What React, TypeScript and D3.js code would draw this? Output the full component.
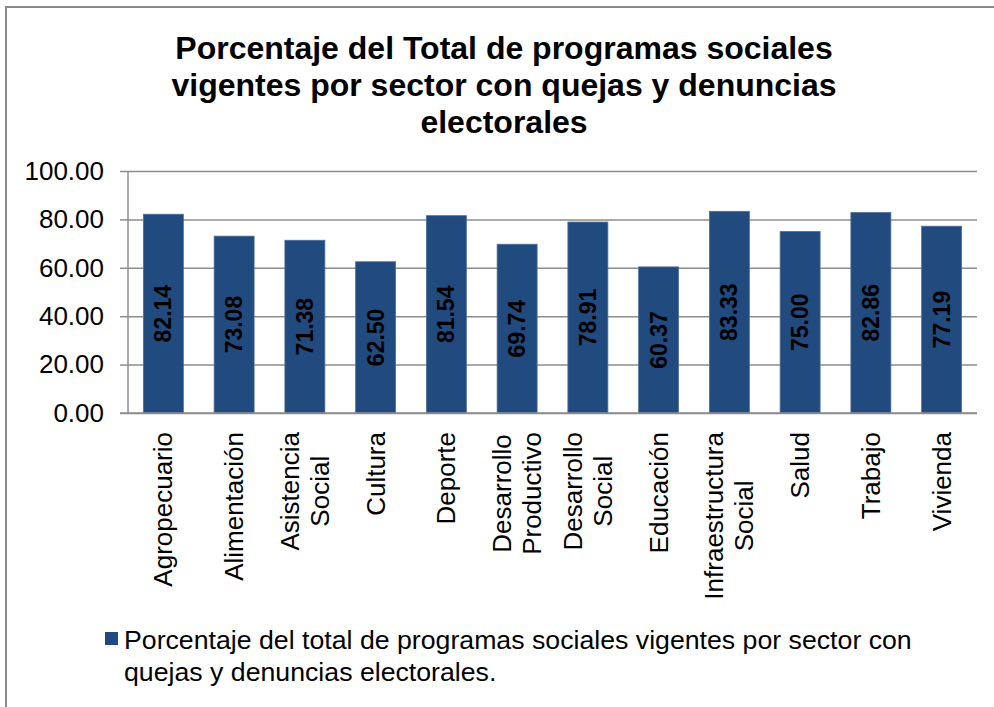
import { useEffect, useRef } from 'react'
import * as d3 from 'd3'

// sectors (line breaks as in the original category labels)
const categories: string[][] = [
  ['Agropecuario'],
  ['Alimentación'],
  ['Asistencia', 'Social'],
  ['Cultura'],
  ['Deporte'],
  ['Desarrollo', 'Productivo'],
  ['Desarrollo', 'Social'],
  ['Educación'],
  ['Infraestructura', 'Social'],
  ['Salud'],
  ['Trabajo'],
  ['Vivienda'],
]

const values: number[] = [82.14, 73.08, 71.38, 62.5, 81.54, 69.74, 78.91, 60.37, 83.33, 75.0, 82.86, 77.19]

const yTicks: number[] = [0, 20, 40, 60, 80, 100]

const titleLines = [
  'Porcentaje del Total de programas sociales',
  'vigentes por sector con quejas y denuncias',
  'electorales',
]

const legendLines = [
  'Porcentaje del total de programas sociales vigentes por sector con',
  'quejas y denuncias electorales.',
]

const FONT = '"Liberation Sans", Arial, sans-serif'
const BAR = '#214a7e'
const GRID = '#8c8c8c'

export default function App() {
  const svgRef = useRef<SVGSVGElement>(null)

  useEffect(() => {
    if (!svgRef.current) return
    const svg = d3.select(svgRef.current)
    svg.selectAll('*').remove()

    const plot = { left: 128, right: 977, top: 171, bottom: 413 }

    // outer chart border (runs past the picture on the right and bottom)
    svg.append('rect')
      .attr('x', 6).attr('y', 7)
      .attr('width', 1000).attr('height', 720)
      .attr('fill', '#fff')
      .attr('stroke', '#8a8a8a')
      .attr('stroke-width', 2)

    // title
    svg.append('text')
      .attr('text-anchor', 'middle')
      .style('font-family', FONT)
      .style('font-size', '32px')
      .style('font-weight', 700)
      .selectAll('tspan')
      .data(titleLines)
      .enter()
      .append('tspan')
      .attr('x', 504)
      .attr('y', (_, i) => 59 + i * 37)
      .text((d) => d)

    const x = d3.scaleBand<number>()
      .domain(d3.range(categories.length))
      .range([plot.left, plot.right])
      .paddingInner(0.435)
      .paddingOuter(0.2175)

    const y = d3.scaleLinear().domain([0, 100]).range([plot.bottom, plot.top])

    // gridlines + y axis
    const yAxis = svg.append('g')
      .attr('transform', `translate(${plot.left},0)`)
      .call(
        d3.axisLeft(y)
          .tickValues(yTicks)
          .tickFormat(d3.format('.2f'))
          .tickSize(8)
          .tickPadding(16)
      )
    yAxis.select('.domain').remove()
    yAxis.selectAll('.tick line').attr('stroke', GRID).attr('stroke-width', 1.5)
      .attr('x2', -8)
    yAxis.selectAll('.tick')
      .append('line')
      .attr('x1', 0)
      .attr('x2', plot.right - plot.left)
      .attr('stroke', GRID)
      .attr('stroke-width', 1.5)
    yAxis.selectAll('.tick text')
      .attr('fill', '#000')
      .style('font-family', FONT)
      .style('font-size', '26px')

    svg.append('line')
      .attr('x1', plot.left).attr('x2', plot.left)
      .attr('y1', plot.top).attr('y2', plot.bottom)
      .attr('stroke', GRID).attr('stroke-width', 1.5)

    // bars
    svg.append('g')
      .selectAll('rect')
      .data(values)
      .enter()
      .append('rect')
      .attr('x', (_, i) => x(i)!)
      .attr('y', (d) => y(d))
      .attr('width', x.bandwidth())
      .attr('height', (d) => y(0) - y(d))
      .attr('fill', BAR)
      .attr('stroke', '#4e6f9b')
      .attr('stroke-width', 0.8)

    // data labels
    svg.append('g')
      .selectAll('text')
      .data(values)
      .enter()
      .append('text')
      .attr('transform', (d, i) =>
        `translate(${x(i)! + x.bandwidth() / 2},${(y(d) + y(0)) / 2}) rotate(-90)`)
      .attr('text-anchor', 'middle')
      .attr('dy', '0.35em')
      .style('font-family', FONT)
      .style('font-size', '23px')
      .style('font-weight', 700)
      .attr('fill', '#000')
      .text((d) => d3.format('.2f')(d))

    // x axis line
    svg.append('line')
      .attr('x1', plot.left - 8).attr('x2', plot.right)
      .attr('y1', plot.bottom).attr('y2', plot.bottom)
      .attr('stroke', GRID).attr('stroke-width', 1.5)

    // category labels (rotated, lines centred on the longest one)
    const labelTop = 432
    const lineGap = 30
    categories.forEach((lines, i) => {
      const cx = x(i)! + x.bandwidth() / 2
      const g = svg.append('g')
        .attr('transform', `translate(${cx},${labelTop}) rotate(-90)`)
      const texts = lines.map((line, j) =>
        g.append('text')
          .attr('text-anchor', 'middle')
          .attr('y', (j - (lines.length - 1) / 2) * lineGap)
          .attr('dy', '0.35em')
          .style('font-family', FONT)
          .style('font-size', '26px')
          .attr('fill', '#000')
          .text(line)
      )
      const maxW = d3.max(texts, (t) => (t.node() as SVGTextElement).getComputedTextLength()) ?? 0
      texts.forEach((t) => t.attr('x', -maxW / 2))
    })

    // legend
    svg.append('rect')
      .attr('x', 105).attr('y', 632)
      .attr('width', 13).attr('height', 13)
      .attr('fill', BAR)
    svg.append('text')
      .style('font-family', FONT)
      .style('font-size', '26.7px')
      .attr('fill', '#000')
      .selectAll('tspan')
      .data(legendLines)
      .enter()
      .append('tspan')
      .attr('x', 124)
      .attr('y', (_, i) => 649 + i * 32)
      .text((d) => d)
  }, [])

  return (
    <svg
      ref={svgRef}
      width={994}
      height={707}
      style={{ position: 'absolute', left: 0, top: 0, background: '#fff' }}
    />
  )
}
